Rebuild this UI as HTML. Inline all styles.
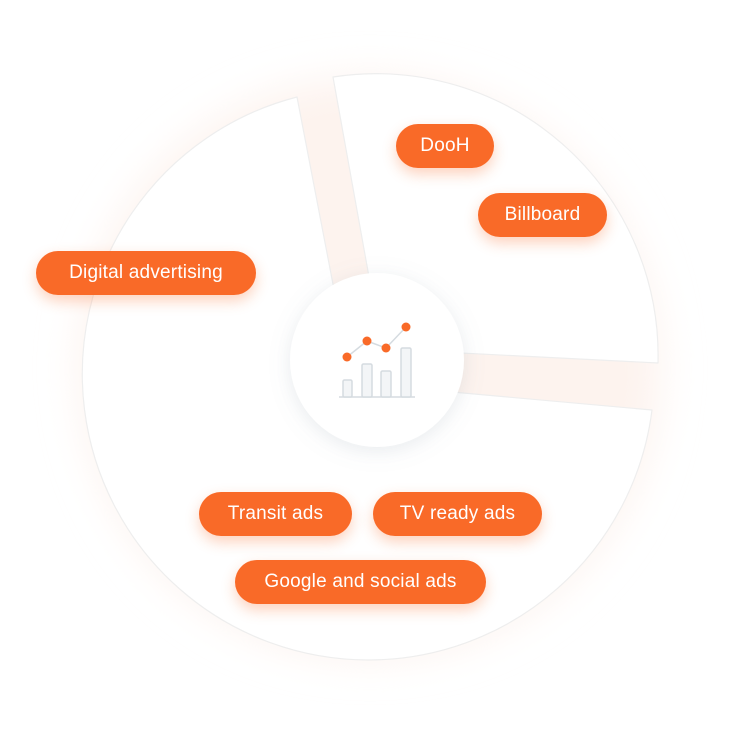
<!DOCTYPE html>
<html><head><style>
body{margin:0;width:740px;height:734px;background:#fff;position:relative;overflow:hidden;font-family:"Liberation Sans",sans-serif}
.p{position:absolute;height:44px;line-height:44px;border-radius:22px;background:#f96a28;color:#fff;font-size:19px;text-align:center;box-shadow:0 6px 14px rgba(249,106,40,.3);letter-spacing:.2px}
</style></head><body>
<svg width="740" height="734" style="position:absolute;left:0;top:0">
<defs>
<filter id="b" x="-30%" y="-30%" width="160%" height="160%"><feGaussianBlur stdDeviation="20"/></filter>
<filter id="c" x="-30%" y="-30%" width="160%" height="160%"><feDropShadow dx="0" dy="4" stdDeviation="10" flood-color="#8090a0" flood-opacity="0.18"/></filter>
</defs>
<circle cx="370" cy="368" r="290" fill="#fdf3ee" filter="url(#b)"/>
<g fill="#fff" stroke="#eeeeee" stroke-width="1.2" stroke-linejoin="round">
<path d="M352 383 L652 410 A286 286 0 1 1 297 97 Z"/>
<path d="M382 349 L333 77 A282 282 0 0 1 658 363 Z"/>
</g>
<circle cx="377" cy="360" r="87" fill="#fff" filter="url(#c)"/>
<g stroke="#d5dbe0" stroke-width="1.5" fill="#f3f5f7">
<line x1="339" y1="397" x2="415" y2="397"/>
<rect x="343" y="380" width="9" height="17" rx="1.5"/>
<rect x="362" y="364" width="10" height="33" rx="1.5"/>
<rect x="381" y="371" width="10" height="26" rx="1.5"/>
<rect x="401" y="348" width="10" height="49" rx="1.5"/>
<polyline points="347,357 367,341 386,348 406,327" fill="none"/>
</g>
<g fill="#f96a28">
<circle cx="347" cy="357" r="4.5"/><circle cx="367" cy="341" r="4.5"/><circle cx="386" cy="348" r="4.5"/><circle cx="406" cy="327" r="4.5"/>
</g>
</svg>
<div class="p" style="left:396px;top:124px;width:98px">DooH</div>
<div class="p" style="left:478px;top:193px;width:129px">Billboard</div>
<div class="p" style="left:36px;top:251px;width:220px">Digital advertising</div>
<div class="p" style="left:199px;top:492px;width:153px">Transit ads</div>
<div class="p" style="left:373px;top:492px;width:169px">TV ready ads</div>
<div class="p" style="left:235px;top:560px;width:251px">Google and social ads</div>
</body></html>
